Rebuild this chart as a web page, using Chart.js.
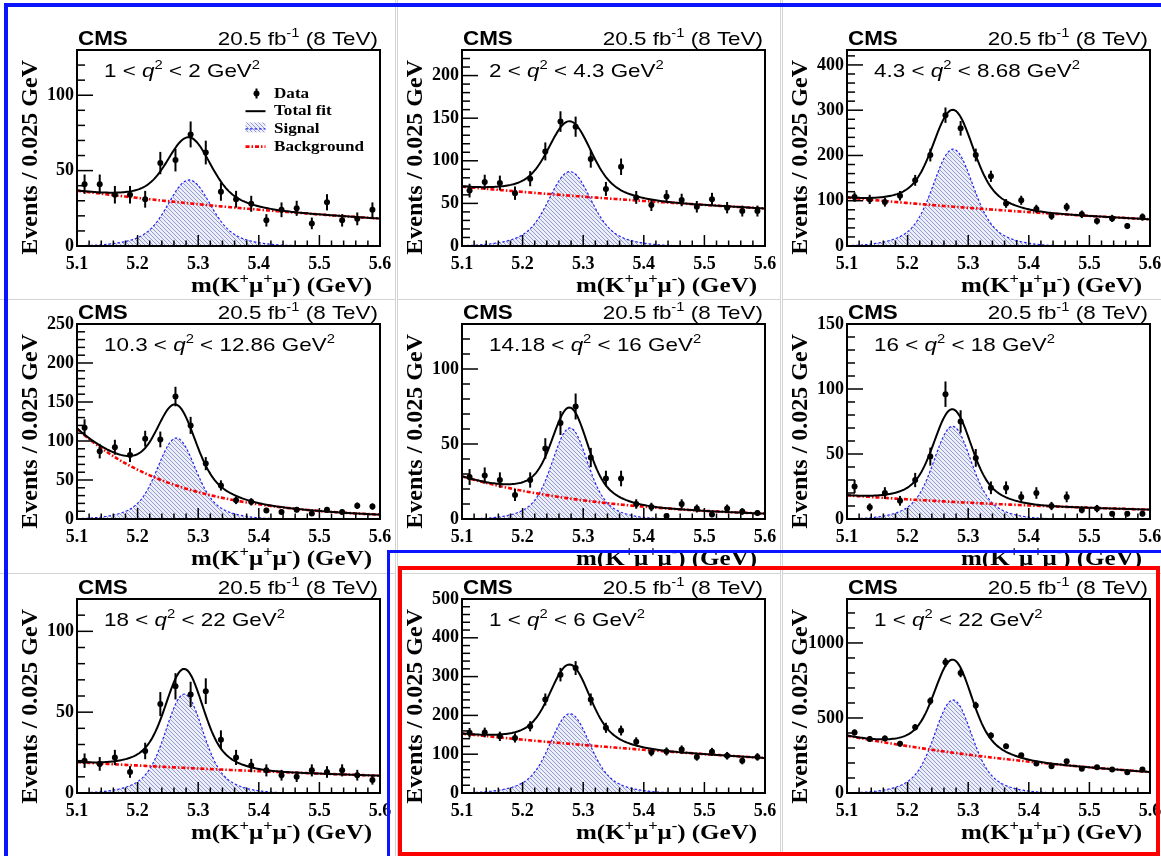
<!DOCTYPE html>
<html lang="en">
<head>
<meta charset="utf-8">
<title>B+ → K+μ+μ− invariant-mass fits in q² bins</title>
<script src="https://cdn.jsdelivr.net/npm/chart.js@4.4.1/dist/chart.umd.min.js"></script>
<style>
  html, body { margin: 0; padding: 0; background: #fff; overflow: hidden; }
  #page { position: relative; width: 1161px; height: 856px; overflow: hidden; background: #fff; }
  .cell { position: absolute; overflow: hidden; background: #fff; box-sizing: border-box; }
  .cell canvas { position: absolute; }
  .box { position: absolute; box-sizing: border-box; pointer-events: none; }
</style>
</head>
<body>
<div id="page"></div>
<script>
// ---- invariant-mass binning (GeV) ----
const massMin = 5.1;
const massMax = 5.6;
const binCenters = [5.1125, 5.1375, 5.1625, 5.1875, 5.2125, 5.2375, 5.2625, 5.2875, 5.3125, 5.3375,
                    5.3625, 5.3875, 5.4125, 5.4375, 5.4625, 5.4875, 5.5125, 5.5375, 5.5625, 5.5875];

// ---- events per 0.025 GeV bin, one array per q² bin ----
const nQ1to2        = [41, 41, 34, 34, 31, 55, 57, 74, 62, 36, 31, 28, 17, 24, 25, 15, 29, 17, 18, 24];
const nQ2to4p3      = [65, 75, 74, 62, 79, 111, 146, 140, 102, 67, 93, 57, 48, 58, 54, 46, 55, 45, 41, 41];
const nQ4p3to8p68   = [108, 103, 97, 111, 145, 201, 289, 260, 201, 154, 94, 101, 82, 66, 86, 70, 55, 61, 44, 64];
const nQ10p3to12p86 = [117, 87, 92, 82, 103, 102, 157, 120, 71, 43, 24, 22, 11, 9, 12, 7, 12, 9, 17, 16];
const nQ14p18to16   = [28, 29, 26, 16, 26, 47, 64, 75, 41, 27, 27, 10, 8, 2, 10, 7, 3, 7, 5, 4];
const nQ16to18      = [25, 9, 20, 14, 30, 48, 96, 75, 47, 24, 24, 17, 20, 10, 17, 7, 8, 4, 4, 4];
const nQ18to22      = [20, 18, 22, 13, 26, 55, 66, 61, 63, 33, 22, 17, 14, 11, 10, 14, 13, 14, 11, 8];
const nQ1to6        = [155, 156, 146, 142, 172, 241, 305, 322, 241, 168, 161, 132, 105, 107, 112, 93, 106, 96, 83, 93];
const nQ1to22       = [404, 360, 364, 329, 438, 613, 871, 800, 584, 384, 311, 251, 196, 178, 211, 162, 171, 156, 138, 156];

// ---- q² bin edges (GeV²) ----
const qLow  = ['1', '2', '4.3', '10.3', '14.18', '16', '18', '1', '1'];
const qHigh = ['2', '4.3', '8.68', '12.86', '16', '18', '22', '6', '22'];

// ---- fitted components per q² bin ----
const sigPeak  = [43.8, 87.3, 214, 103.8, 60.7, 71.3, 61.2, 204.5, 620];   // signal height at its mean
const sigMean  = [5.285, 5.278, 5.275, 5.264, 5.278, 5.274, 5.277, 5.278, 5.275];
const sigWidth = [0.032, 0.0315, 0.030, 0.0285, 0.0265, 0.028, 0.028, 0.0296, 0.028]; // core width
const bkgLow   = [36.7, 69.6, 107, 115.8, 28.4, 18.2, 19.1, 152.9, 382];  // background at 5.1 GeV
const bkgHigh  = [18.2, 44, 59, 5.6, 3.6, 7.2, 10.7, 90.2, 140];          // background at 5.6 GeV

// ---- y axis ranges and tick steps ----
const yMax   = [130, 230, 433, 250, 130, 150, 120, 500, 1293];
const yMajor = [50, 50, 100, 50, 50, 50, 50, 100, 500];
const yMinor = [10, 10, 20, 10, 10, 10, 10, 20, 100];
const xMajor = 0.1;
const xMinor = 0.02;

const panelCounts = [nQ1to2, nQ2to4p3, nQ4p3to8p68, nQ10p3to12p86, nQ14p18to16, nQ16to18, nQ18to22, nQ1to6, nQ1to22];

// signal shape: double Gaussian with a common mean, wide part twice the core width
const TAIL_FRACTION = 0.25;
const TAIL_RATIO = 2;
function signalModel(i, m) {
  const d = (m - sigMean[i]) / sigWidth[i];
  return sigPeak[i] * ((1 - TAIL_FRACTION) * Math.exp(-0.5 * d * d) +
                       TAIL_FRACTION * Math.exp(-0.5 * (d / TAIL_RATIO) * (d / TAIL_RATIO)));
}
// background shape: exponential through its values at the two ends of the range
function backgroundModel(i, m) {
  const slope = Math.log(bkgHigh[i] / bkgLow[i]) / (massMax - massMin);
  return bkgLow[i] * Math.exp(slope * (m - massMin));
}
// fine mass grid on which the fit model is evaluated
const FIT_STEPS = 200;
const fitGrid = [];
for (let k = 0; k <= FIT_STEPS; k++) fitGrid.push(massMin + (massMax - massMin) * k / FIT_STEPS);

// ---- page geometry ----
const PLOT_L = [77, 462, 847];
const PLOT_R = [380, 765, 1150];
const PLOT_T = [50, 324, 599];
const PLOT_B = [246, 519, 793];
const CELL_X = [[0, 396], [397, 384], [782, 379]];   // left, width
const CELL_Y = [[0, 299], [299, 274], [573, 283]];   // top, height
const AXIS_W = 77, PAD_TOP = 50, PAD_RIGHT = 24, XAXIS_H = 40, PAD_BOTTOM = 20;

const SANS = '"Liberation Sans", Arial, Helvetica, sans-serif';
const SERIF = '"Liberation Serif", "Times New Roman", Times, serif';
const SIGNAL_BLUE = '#2323f5';
const BKG_RED = '#ff0000';

function isMultiple(v, step) {
  const r = v / step;
  return Math.abs(r - Math.round(r)) < 1e-6;
}

// tick values every `step` from lo up to hi
function stepTicks(lo, hi, step) {
  const out = [];
  const n = Math.floor((hi - lo) / step + 1e-6);
  for (let k = 0; k <= n; k++) out.push({ value: Math.round((lo + k * step) * 1e6) / 1e6 });
  return out;
}

// diagonal hatch used for the signal area
function makeHatch() {
  const p = 4;
  const c = document.createElement('canvas');
  c.width = p; c.height = p;
  const g = c.getContext('2d');
  g.fillStyle = '#eceef8';
  g.fillRect(0, 0, p, p);
  g.strokeStyle = '#959ad0';
  g.lineWidth = 1;
  for (let k = -1; k <= 1; k++) {
    g.beginPath();
    g.moveTo(k * p, 0);
    g.lineTo(k * p + p, p);
    g.stroke();
  }
  return g.createPattern(c, 'repeat');
}
const hatch = makeHatch();

// text with italic / superscript pieces, optionally stretched horizontally
function richText(ctx, parts, x, y, o) {
  const size = o.size, sx = o.sx || 1, weight = o.weight || 'normal';
  const fontFor = p => (p.i ? 'italic ' : '') + weight + ' ' + (p.s ? size * 0.66 : size) + 'px ' + o.family;
  let w = 0;
  parts.forEach(p => { ctx.font = fontFor(p); p.w = ctx.measureText(p.t).width; w += p.w; });
  const x0 = o.align === 'right' ? x - w * sx : x;
  ctx.save();
  ctx.translate(x0, y);
  ctx.scale(sx, 1);
  ctx.fillStyle = '#000';
  ctx.textAlign = 'left';
  ctx.textBaseline = 'alphabetic';
  let cx = 0;
  parts.forEach(p => {
    ctx.font = fontFor(p);
    ctx.fillText(p.t, cx, p.s ? -size * 0.42 : 0);
    cx += p.w;
  });
  ctx.restore();
}

// vertical Poisson error bars on the data points
const poissonErrors = {
  id: 'poissonErrors',
  beforeDatasetDraw(chart, args) {
    const ds = chart.data.datasets[args.index];
    if (!ds.poisson) return;
    const { ctx, chartArea: ca, scales: { x, y } } = chart;
    ctx.save();
    ctx.beginPath();
    ctx.rect(ca.left, ca.top, ca.width, ca.height);
    ctx.clip();
    ctx.strokeStyle = '#000';
    ctx.lineWidth = 2;
    ds.data.forEach(p => {
      const e = Math.sqrt(p.y);
      const px = x.getPixelForValue(p.x);
      ctx.beginPath();
      ctx.moveTo(px, y.getPixelForValue(p.y - e));
      ctx.lineTo(px, y.getPixelForValue(p.y + e));
      ctx.stroke();
    });
    ctx.restore();
  }
};

// frame, inward ticks, labels and legend in the usual CMS style
const cmsDecor = {
  id: 'cmsDecor',
  afterDraw(chart, args, opts) {
    const { ctx, chartArea: ca, scales: { x, y } } = chart;
    const i = opts.panel;
    ctx.save();
    ctx.strokeStyle = '#000';
    ctx.lineWidth = 1.5;
    x.ticks.forEach(t => {
      const px = x.getPixelForValue(t.value);
      const len = isMultiple(t.value, xMajor) ? 11 : 5.5;
      ctx.beginPath(); ctx.moveTo(px, ca.bottom); ctx.lineTo(px, ca.bottom - len); ctx.stroke();
    });
    y.ticks.forEach(t => {
      const py = y.getPixelForValue(t.value);
      const len = isMultiple(t.value, yMajor[i]) ? 16 : 8;
      ctx.beginPath(); ctx.moveTo(ca.left, py); ctx.lineTo(ca.left + len, py); ctx.stroke();
    });
    ctx.lineWidth = 2;
    ctx.strokeRect(ca.left, ca.top, ca.right - ca.left, ca.bottom - ca.top);

    richText(ctx, [{ t: 'CMS' }], ca.left + 1, ca.top - 5, { size: 19.5, family: SANS, weight: 'bold', sx: 1.15 });
    richText(ctx, [{ t: '20.5 fb' }, { t: '-1', s: true }, { t: ' (8 TeV)' }], ca.right - 2, ca.top - 5,
             { size: 19, family: SANS, sx: 1.18, align: 'right' });
    richText(ctx, [{ t: qLow[i] + ' < ' }, { t: 'q', i: true }, { t: '2', s: true }, { t: ' < ' + qHigh[i] + ' GeV' }, { t: '2', s: true }],
             ca.left + 27, ca.top + 27, { size: 19, family: SANS, sx: 1.18 });
    richText(ctx, [{ t: 'm(K' }, { t: '+', s: true }, { t: 'μ' }, { t: '+', s: true }, { t: 'μ' }, { t: '-', s: true }, { t: ') (GeV)' }],
             ca.right - 8, ca.bottom + 46, { size: 21, family: SERIF, weight: 'bold', sx: 1.19, align: 'right' });

    ctx.save();
    ctx.translate(ca.left - 40.5, ca.top + 10);
    ctx.rotate(-Math.PI / 2);
    ctx.font = 'bold 24px ' + SERIF;
    ctx.fillStyle = '#000';
    ctx.textAlign = 'right';
    ctx.textBaseline = 'alphabetic';
    ctx.fillText('Events / 0.025 GeV', 0, 0);
    ctx.restore();

    if (opts.legend) drawLegend(chart);
    ctx.restore();
  }
};

function drawLegend(chart) {
  const { ctx, chartArea: ca } = chart;
  const byRole = r => chart.data.datasets.find(d => d.role === r);
  const entries = [byRole('data'), byRole('total'), byRole('signal'), byRole('background')];
  const tx = ca.left + 197, sx0 = ca.left + 168.5, sx1 = ca.left + 188.5, cx = ca.left + 179.5;
  entries.forEach((ds, k) => {
    const base = ca.top + 47.5 + k * 17.7;
    const my = base - 4;
    ctx.save();
    if (ds.role === 'data') {
      ctx.strokeStyle = '#000'; ctx.lineWidth = 2;
      ctx.beginPath(); ctx.moveTo(cx, my - 5); ctx.lineTo(cx, my + 5); ctx.stroke();
      ctx.fillStyle = '#000';
      ctx.beginPath(); ctx.arc(cx, my, 3, 0, Math.PI * 2); ctx.fill();
    } else {
      if (ds.role === 'signal') {
        ctx.fillStyle = hatch;
        ctx.fillRect(sx0, base - 10.5, sx1 - sx0, 10);
      }
      ctx.strokeStyle = ds.borderColor;
      ctx.lineWidth = ds.borderWidth;
      ctx.setLineDash(ds.borderDash || []);
      ctx.beginPath(); ctx.moveTo(sx0, my); ctx.lineTo(sx1, my); ctx.stroke();
    }
    ctx.restore();
    richText(ctx, [{ t: ds.label }], tx, base, { size: 15, family: SERIF, weight: 'bold', sx: 1.14 });
  });
}

const page = document.getElementById('page');

for (let i = 0; i < 9; i++) {
  const col = i % 3, row = Math.floor(i / 3);
  const cell = document.createElement('div');
  cell.className = 'cell';
  cell.style.left = CELL_X[col][0] + 'px';
  cell.style.width = CELL_X[col][1] + 'px';
  cell.style.top = CELL_Y[row][0] + 'px';
  cell.style.height = CELL_Y[row][1] + 'px';
  const edge = '1px solid #d4d4d4';
  if (col > 0) cell.style.borderLeft = edge;
  if (col < 2) cell.style.borderRight = edge;
  if (row > 0) cell.style.borderTop = edge;
  page.appendChild(cell);

  const plotW = PLOT_R[col] - PLOT_L[col], plotH = PLOT_B[row] - PLOT_T[row];
  const cv = document.createElement('canvas');
  const W = AXIS_W + plotW + PAD_RIGHT, H = PAD_TOP + plotH + XAXIS_H + PAD_BOTTOM;
  cv.width = W; cv.height = H;
  cv.style.width = W + 'px'; cv.style.height = H + 'px';
  cv.style.left = (PLOT_L[col] - AXIS_W - CELL_X[col][0] - (col > 0 ? 1 : 0)) + 'px';
  cv.style.top = (PLOT_T[row] - PAD_TOP - CELL_Y[row][0] - (row > 0 ? 1 : 0)) + 'px';
  cell.appendChild(cv);

  const counts = panelCounts[i];
  const dataPts = binCenters.map((m, k) => ({ x: m, y: counts[k] }));
  const sigPts = fitGrid.map(m => ({ x: m, y: signalModel(i, m) }));
  const bkgPts = fitGrid.map(m => ({ x: m, y: backgroundModel(i, m) }));
  const totPts = fitGrid.map(m => ({ x: m, y: signalModel(i, m) + backgroundModel(i, m) }));

  new Chart(cv, {
    type: 'scatter',
    data: {
      datasets: [
        { role: 'data', label: 'Data', type: 'scatter', data: dataPts, poisson: true,
          pointRadius: 3, pointBackgroundColor: '#000', pointBorderWidth: 0, order: 0 },
        { role: 'total', label: 'Total fit', type: 'line', data: totPts, borderColor: '#000', borderWidth: 2,
          pointRadius: 0, tension: 0, fill: false, order: 1 },
        { role: 'background', label: 'Background', type: 'line', data: bkgPts, borderColor: BKG_RED, borderWidth: 2.6,
          borderDash: [4, 2, 1.5, 2], pointRadius: 0, tension: 0, fill: false, order: 2 },
        { role: 'signal', label: 'Signal', type: 'line', data: sigPts, borderColor: SIGNAL_BLUE, borderWidth: 1.2,
          borderDash: [2.5, 2], backgroundColor: hatch, fill: 'origin', pointRadius: 0, tension: 0, order: 3 }
      ]
    },
    options: {
      responsive: false,
      animation: false,
      devicePixelRatio: 1,
      events: [],
      layout: { padding: { left: 0, top: PAD_TOP, right: PAD_RIGHT, bottom: PAD_BOTTOM } },
      plugins: {
        legend: { display: false },
        tooltip: { enabled: false },
        cmsDecor: { panel: i, legend: i === 0 }
      },
      scales: {
        x: {
          type: 'linear', position: 'bottom', min: massMin, max: massMax,
          afterBuildTicks: s => { s.ticks = stepTicks(massMin, massMax, xMinor); },
          afterFit: s => { s.height = XAXIS_H; },
          grid: { display: false, drawTicks: false },
          border: { display: false },
          ticks: {
            autoSkip: false, maxRotation: 0, minRotation: 0,
            padding: 8, color: '#000',
            font: { family: SERIF, size: 18, weight: 'bold' },
            callback: v => isMultiple(v, xMajor) ? v.toFixed(1) : ''
          }
        },
        y: {
          type: 'linear', position: 'left', min: 0, max: yMax[i],
          afterBuildTicks: s => { s.ticks = stepTicks(0, yMax[i], yMinor[i]); },
          afterFit: s => { s.width = AXIS_W; },
          grid: { display: false, drawTicks: false },
          border: { display: false },
          ticks: {
            autoSkip: false,
            padding: 3, color: '#000',
            font: { family: SERIF, size: 18, weight: 'bold' },
            callback: v => isMultiple(v, yMajor[i]) ? String(Math.round(v)) : ''
          }
        }
      }
    },
    plugins: [poissonErrors, cmsDecor]
  });
}

// highlight frames around the panel groups
function addBox(css) {
  const d = document.createElement('div');
  d.className = 'box';
  Object.assign(d.style, css);
  page.appendChild(d);
}
addBox({ left: '4px', top: '3px', width: '1300px', height: '1000px', borderTop: '4px solid #0a14ff', borderLeft: '4px solid #0a14ff' });
addBox({ left: '387px', top: '550px', width: '1000px', height: '500px', borderTop: '3px solid #0a14ff', borderLeft: '3px solid #0a14ff' });
addBox({ left: '398px', top: '566px', width: '762px', height: '290px', border: '4px solid #ff0000' });
</script>
</body>
</html>
